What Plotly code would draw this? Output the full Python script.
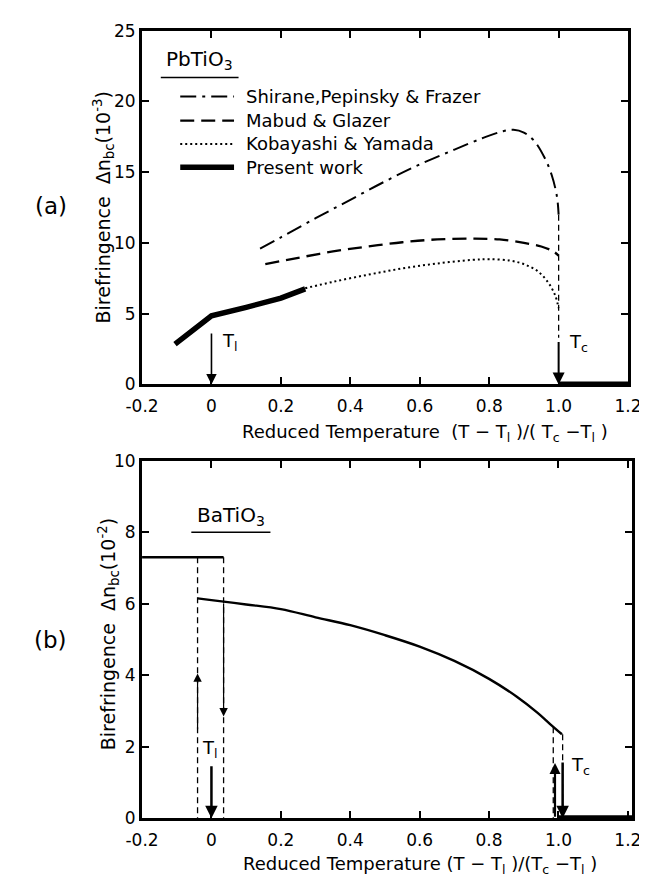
import plotly.graph_objects as go

# ---------------- Panel (a): PbTiO3 (units 1e-3) ----------------
shirane_x = [0.14, 0.2, 0.3, 0.4, 0.5, 0.6, 0.7, 0.78, 0.84, 0.87, 0.9, 0.93, 0.96, 0.98, 0.995, 1.0]
shirane_y = [9.6, 10.4, 11.75, 13.05, 14.35, 15.55, 16.6, 17.4, 17.9, 18.0, 17.8, 17.2, 16.0, 14.8, 13.3, 12.0]

mabud_x = [0.155, 0.25, 0.35, 0.45, 0.55, 0.65, 0.75, 0.83, 0.9, 0.95, 0.985, 1.0]
mabud_y = [8.5, 8.95, 9.4, 9.75, 10.05, 10.25, 10.3, 10.25, 10.0, 9.75, 9.4, 9.1]

koba_x = [0.27, 0.35, 0.45, 0.55, 0.65, 0.75, 0.8, 0.86, 0.9, 0.94, 0.97, 0.99, 1.0]
koba_y = [6.8, 7.25, 7.75, 8.2, 8.55, 8.8, 8.85, 8.75, 8.5, 8.0, 7.2, 6.3, 5.4]

present_x = [-0.105, 0.0, 0.1, 0.2, 0.27]
present_y = [2.85, 4.85, 5.45, 6.1, 6.75]

tc_drop_a_x = [1.0, 1.0]
tc_drop_a_y = [12.0, 3.3]
above_tc_a_x = [1.0, 1.2]
above_tc_a_y = [0.07, 0.07]

legend_names = ["Shirane,Pepinsky & Frazer", "Mabud & Glazer", "Kobayashi & Yamada", "Present work"]
legend_rows = [20.35, 18.65, 17.0, 15.35]

# ---------------- Panel (b): BaTiO3 (units 1e-2) ----------------
bat_x = [-0.04, 0.0, 0.1, 0.2, 0.3, 0.4, 0.5, 0.6, 0.7, 0.8, 0.88, 0.94, 0.98, 1.01]
bat_y = [6.15, 6.1, 5.98, 5.85, 5.62, 5.4, 5.12, 4.8, 4.4, 3.9, 3.4, 2.95, 2.6, 2.35]

low_x = [-0.2, 0.035]
low_y = [7.3, 7.3]

hyst_x = [-0.04, 0.035, 0.985, 1.012]
hyst_top = [7.3, 7.3, 2.55, 2.35]
above_tc_b_x = [1.0, 1.213]
above_tc_b_y = [0.03, 0.03]

x_ticks = [-0.2, 0.0, 0.2, 0.4, 0.6, 0.8, 1.0, 1.2]
x_tick_text = ["-0.2", "0", "0.2", "0.4", "0.6", "0.8", "1.0", "1.2"]
ya_ticks = [0, 5, 10, 15, 20, 25]
yb_ticks = [0, 2, 4, 6, 8, 10]

FONT = "DejaVu Sans"
fig = go.Figure()

# panel a curves
fig.add_trace(go.Scatter(x=shirane_x, y=shirane_y, mode="lines", xaxis="x", yaxis="y",
                         line=dict(color="black", width=2, dash="16px,6px,3px,6px", shape="spline")))
fig.add_trace(go.Scatter(x=mabud_x, y=mabud_y, mode="lines", xaxis="x", yaxis="y",
                         line=dict(color="black", width=2.3, dash="14px,7px", shape="spline")))
fig.add_trace(go.Scatter(x=koba_x, y=koba_y, mode="lines", xaxis="x", yaxis="y",
                         line=dict(color="black", width=2, dash="2px,3px", shape="spline")))
fig.add_trace(go.Scatter(x=present_x, y=present_y, mode="lines", xaxis="x", yaxis="y",
                         line=dict(color="black", width=5.5)))
fig.add_trace(go.Scatter(x=tc_drop_a_x, y=tc_drop_a_y, mode="lines", xaxis="x", yaxis="y",
                         line=dict(color="black", width=1.3, dash="6px,4px")))
fig.add_trace(go.Scatter(x=above_tc_a_x, y=above_tc_a_y, mode="lines", xaxis="x", yaxis="y",
                         line=dict(color="black", width=4)))

# legend samples (panel a)
leg_styles = [dict(width=2, dash="16px,6px,3px,6px"), dict(width=2.3, dash="14px,7px"),
              dict(width=2, dash="2px,3px"), dict(width=5.5)]
for name, yy, st in zip(legend_names, legend_rows, leg_styles):
    fig.add_trace(go.Scatter(x=[-0.09, 0.065], y=[yy, yy], mode="lines", xaxis="x", yaxis="y",
                             line=dict(color="black", **st)))

# panel b curves
fig.add_trace(go.Scatter(x=bat_x, y=bat_y, mode="lines", xaxis="x2", yaxis="y2",
                         line=dict(color="black", width=2.4, shape="spline")))
fig.add_trace(go.Scatter(x=low_x, y=low_y, mode="lines", xaxis="x2", yaxis="y2",
                         line=dict(color="black", width=2.6)))
for hx, ht in zip(hyst_x, hyst_top):
    fig.add_trace(go.Scatter(x=[hx, hx], y=[ht, 0], mode="lines", xaxis="x2", yaxis="y2",
                             line=dict(color="black", width=1.3, dash="6px,4px")))
fig.add_trace(go.Scatter(x=above_tc_b_x, y=above_tc_b_y, mode="lines", xaxis="x2", yaxis="y2",
                         line=dict(color="black", width=4)))

def arrow(x0, y0, x1, y1, xr, yr, w=1.5, head=2, size=1.0):
    return dict(x=x1, y=y1, ax=x0, ay=y0, xref=xr, yref=yr, axref=xr, ayref=yr,
                showarrow=True, arrowhead=head, arrowwidth=w, arrowsize=size,
                arrowcolor="black", text="")

annotations = [
    # panel a arrows
    arrow(0.0, 3.7, 0.0, 0.0, "x", "y", w=1.6, head=2, size=1.3),
    arrow(1.0, 3.1, 1.0, 0.0, "x", "y", w=2.0, head=2, size=1.2),
    # panel b arrows
    arrow(-0.04, 2.45, -0.04, 4.05, "x2", "y2", w=1.2, head=2, size=1.4),
    arrow(0.035, 6.05, 0.035, 2.85, "x2", "y2", w=1.2, head=2, size=1.4),
    arrow(0.0, 1.5, 0.0, 0.0, "x2", "y2", w=2.5, head=2, size=1.0),
    arrow(0.99, 0.0, 0.99, 1.55, "x2", "y2", w=2.2, head=2, size=1.0),
    arrow(1.012, 1.6, 1.012, 0.0, "x2", "y2", w=2.5, head=2, size=1.0),
]

def txt(x, y, s, xr, yr, size=15, xa="center", ya="middle", angle=0):
    return dict(x=x, y=y, text=s, xref=xr, yref=yr, showarrow=False, xanchor=xa, yanchor=ya,
                textangle=angle, font=dict(family=FONT, size=size, color="black"))

annotations += [
    txt(-0.035, 22.9, "PbTiO<sub>3</sub>", "x", "y", size=20),
    txt(0.025, 3.0, "T<sub>l</sub>", "x", "y", size=18, xa="left"),
    txt(1.025, 2.9, "T<sub>c</sub>", "x", "y", size=18, xa="left"),
    txt(0.055, 8.45, "BaTiO<sub>3</sub>", "x2", "y2", size=20),
    txt(-0.005, 1.95, "T<sub>l</sub>", "x2", "y2", size=18),
    txt(1.03, 1.45, "T<sub>c</sub>", "x2", "y2", size=18, xa="left"),
]
for name, yy in zip(legend_names, legend_rows):
    annotations.append(txt(0.095, yy, name, "x", "y", size=18, xa="left"))

# axis titles and panel labels
annotations += [
    txt(0.650, 0.516, "Reduced Temperature  (T − T<sub>l</sub> )/( T<sub>c</sub> −T<sub>l</sub> )", "paper", "paper", size=18),
    txt(0.642, 0.0125, "Reduced Temperature (T − T<sub>l</sub> )/(T<sub>c</sub> −T<sub>l</sub> )", "paper", "paper", size=18),
    txt(0.128, 0.779, "Birefringence  Δn<sub>bc</sub>(10<sup>-3</sup>)", "paper", "paper", size=19, angle=-90),
    txt(0.135, 0.282, "Birefringence  Δn<sub>bc</sub>(10<sup>-2</sup>)", "paper", "paper", size=19, angle=-90),
    txt(0.042, 0.781, "(a)", "paper", "paper", size=23),
    txt(0.042, 0.275, "(b)", "paper", "paper", size=23),
]

shapes = [
    dict(type="line", xref="x", yref="y", x0=-0.146, x1=0.078, y0=21.7, y1=21.7,
         line=dict(color="black", width=1.5)),
    dict(type="line", xref="x2", yref="y2", x0=-0.058, x1=0.17, y0=8.0, y1=8.0,
         line=dict(color="black", width=1.5)),
]

axis_common = dict(showline=True, linecolor="black", linewidth=3, mirror="ticks",
                   ticks="inside", ticklen=7, tickwidth=2, tickcolor="black",
                   showgrid=False, zeroline=False,
                   tickfont=dict(family=FONT, size=17, color="black"))

fig.update_layout(
    width=647, height=878,
    margin=dict(l=0, r=0, t=0, b=0),
    paper_bgcolor="white", plot_bgcolor="white",
    showlegend=False,
    xaxis=dict(domain=[0.190, 0.979], range=[-0.2, 1.2], tickvals=x_ticks, ticktext=x_tick_text,
               anchor="y", ticklabelstandoff=4, **axis_common),
    yaxis=dict(domain=[0.5729, 0.9852], range=[0, 25], tickvals=ya_ticks, anchor="x", **axis_common),
    xaxis2=dict(domain=[0.190, 0.986], range=[-0.2, 1.213], tickvals=x_ticks, ticktext=x_tick_text,
                anchor="y2", ticklabelstandoff=4, **axis_common),
    yaxis2=dict(domain=[0.0672, 0.4841], range=[0, 10], tickvals=yb_ticks, anchor="x2", **axis_common),
    annotations=annotations,
    shapes=shapes,
)

fig.write_html("out.html")
